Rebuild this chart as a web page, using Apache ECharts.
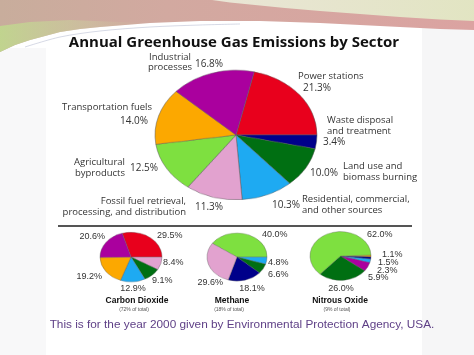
<!DOCTYPE html>
<html><head><meta charset="utf-8">
<script src="https://cdn.jsdelivr.net/npm/echarts@6/dist/echarts.min.js"></script>
<style>
html,body{margin:0;padding:0;background:#fff;}
#wrap{position:relative;width:474px;height:355px;overflow:hidden;background:#fff;}
#bg,#texts{position:absolute;left:0;top:0;width:474px;height:355px;}
#pies{position:absolute;left:0;top:0;width:474px;height:443.75px;transform:scaleY(0.8);transform-origin:0 0;}
</style></head><body>
<div id="wrap"><div id="bg"></div><div id="pies"></div><div id="texts"></div></div>
<script>
// ---------- data ----------
const chartTitle = 'Annual Greenhouse Gas Emissions by Sector';
const sectorNames = ['Power stations', 'Waste disposal\nand treatment', 'Land use and\nbiomass burning',
  'Residential, commercial,\nand other sources', 'Fossil fuel retrieval,\nprocessing, and distribution',
  'Agricultural\nbyproducts', 'Transportation fuels', 'Industrial\nprocesses'];
const sectorShares = [21.3, 3.4, 10.0, 10.3, 11.3, 12.5, 14.0, 16.8];

const gasNames = ['Carbon Dioxide', 'Methane', 'Nitrous Oxide'];
const gasTotalShares = [72, 18, 9];

const co2Sectors = ['Power stations', 'Fossil fuel retrieval,\nprocessing, and distribution', 'Land use and\nbiomass burning',
  'Residential, commercial,\nand other sources', 'Transportation fuels', 'Industrial\nprocesses'];
const co2Shares = [29.5, 8.4, 9.1, 12.9, 19.2, 20.6];

const ch4Sectors = ['Agricultural\nbyproducts', 'Residential, commercial,\nand other sources', 'Land use and\nbiomass burning',
  'Waste disposal\nand treatment', 'Fossil fuel retrieval,\nprocessing, and distribution'];
const ch4Shares = [40.0, 4.8, 6.6, 18.1, 29.6];

const n2oSectors = ['Transportation fuels', 'Waste disposal\nand treatment', 'Residential, commercial,\nand other sources',
  'Industrial\nprocesses', 'Land use and\nbiomass burning', 'Agricultural\nbyproducts'];
const n2oShares = [1.1, 1.5, 2.3, 5.9, 26.0, 62.0];

const captionText = 'This is for the year 2000 given by Environmental Protection Agency, USA.';

// ---------- style ----------
const sectorColors = ['#e8001c', '#00008a', '#006f12', '#1eaaf2', '#e2a2cf', '#7ee040', '#fca800', '#aa009e'];
const colorOf = n => sectorColors[sectorNames.indexOf(n)];
const SY = 0.8; // vertical squash of the pie layer (elliptical pies)
const sum = a => a.reduce((s, v) => s + v, 0);

function pieSeries(names, values, cx, cy, r, start, bw) {
  return {
    type: 'pie', center: [cx, cy / SY], radius: r, startAngle: start, clockwise: true,
    silent: true, animation: false, label: { show: false }, labelLine: { show: false },
    emphasis: { disabled: true },
    itemStyle: { borderColor: 'rgba(90,90,90,0.65)', borderWidth: bw },
    data: names.map((n, i) => ({ name: n, value: values[i], itemStyle: { color: colorOf(n) } }))
  };
}

const pies = echarts.init(document.getElementById('pies'), null, { renderer: 'canvas' });
pies.setOption({
  animation: false,
  series: [
    pieSeries(sectorNames, sectorShares, 236, 135, 81, sectorShares[0] / sum(sectorShares) * 360, 0.8),
    pieSeries(co2Sectors, co2Shares, 131, 257, 31, co2Shares[0] / sum(co2Shares) * 360, 0.6),
    pieSeries(ch4Sectors, ch4Shares, 237, 257, 30, ch4Shares[0] / sum(ch4Shares) * 360, 0.6),
    pieSeries(n2oSectors, n2oShares, 340.5, 256, 30.5, 2, 0.6)
  ]
});

// ---------- text + decoration layer ----------
const F = '"Open Sans", "Noto Sans", sans-serif';
function txt(t, x, y, align, font, fill, lh) {
  return { type: 'text', x: x, y: y, silent: true,
    style: { text: t, font: font, fill: fill || '#333', textAlign: align, textVerticalAlign: 'middle', lineHeight: lh || 10.5 } };
}

const g = [];
// decorative slide background
g.push({ type: 'rect', shape: { x: 422, y: 28, width: 52, height: 327 }, style: { fill: '#f6f6f7' }, silent: true });
g.push({ type: 'rect', shape: { x: 0, y: 48, width: 46, height: 307 }, style: { fill: '#f8f8f9' }, silent: true });
const bandBottom = [[0, 52], [15, 45], [30, 40], [45, 36], [60, 32], [80, 29], [100, 27], [125, 25], [150, 23],
  [175, 22], [200, 21], [230, 21], [260, 21], [290, 22], [320, 23], [350, 24.5], [380, 26], [410, 27.5], [440, 29], [474, 30]];
g.push({ type: 'polygon', shape: { points: bandBottom.concat([[474, 0], [0, 0]]) }, silent: true,
  style: { fill: new echarts.graphic.LinearGradient(0, 0, 1, 0, [
    { offset: 0, color: '#c8ad9c' }, { offset: 0.35, color: '#d2a9a0' }, { offset: 1, color: '#dba3a1' }]) } });
// greenish lower-left tint
g.push({ type: 'polygon', shape: { points: bandBottom.slice(0, 9).concat([[120, 22], [70, 20], [30, 22], [0, 26]]) }, silent: true,
  style: { fill: new echarts.graphic.LinearGradient(0, 0, 1, 0, [
    { offset: 0, color: 'rgba(192,214,142,0.95)' }, { offset: 0.6, color: 'rgba(205,205,160,0.45)' }, { offset: 1, color: 'rgba(210,190,160,0)' }]) } });
// cream highlight top right
g.push({ type: 'polygon', shape: { points: [[212, 0], [474, 0], [474, 21], [440, 19.5], [400, 17], [360, 14], [320, 11], [285, 8], [255, 5], [230, 2.5]] },
  silent: true, style: { fill: new echarts.graphic.LinearGradient(0, 0, 1, 0, [
    { offset: 0, color: 'rgba(236,236,220,0.9)' }, { offset: 1, color: 'rgba(226,232,196,0.95)' }]) } });
// faint swoosh line
const swoosh = [[25, 47], [60, 37], [100, 31], [150, 27], [200, 25], [240, 24]];
g.push({ type: 'polyline', shape: { points: swoosh, smooth: 0.3 }, silent: true, style: { stroke: 'rgba(160,168,195,0.55)', lineWidth: 0.8, fill: null } });

// title
g.push(txt(chartTitle, 234, 43, 'center', 'bold 15px ' + F, '#111'));

// main pie labels
const nameLayout = [[298, 76, 'left'], [327, 126, 'left'], [343, 172, 'left'], [302, 205, 'left'],
  [186, 207, 'right'], [125, 168, 'right'], [152, 107, 'right'], [170, 62.5, 'center']];
const pctLayout = [[303, 88, 'left'], [323, 142, 'left'], [338, 173, 'right'], [300, 205, 'right'],
  [195, 207, 'left'], [130, 168, 'left'], [148, 121, 'right'], [195, 64, 'left']];
sectorNames.forEach((n, i) => {
  g.push(txt(n, nameLayout[i][0], nameLayout[i][1], nameLayout[i][2], '9.5px ' + F, '#333'));
  g.push(txt(sectorShares[i].toFixed(1) + '%', pctLayout[i][0], pctLayout[i][1], pctLayout[i][2], '10px ' + F, '#333'));
});

// separator
g.push({ type: 'line', shape: { x1: 58, y1: 226, x2: 412, y2: 226 }, style: { stroke: '#555', lineWidth: 2 }, silent: true });

// small pies labels
const SF = '"Liberation Sans", Arial, sans-serif';
const smallPct = [
  [co2Shares, [[157, 236, 'left'], [163, 263, 'left'], [152, 281, 'left'], [133, 289, 'center'], [102, 277, 'right'], [105, 237, 'right']]],
  [ch4Shares, [[262, 235, 'left'], [268, 263, 'left'], [268, 275, 'left'], [252, 289, 'center'], [223, 283, 'right']]],
  [n2oShares, [[382, 255, 'left'], [378, 263, 'left'], [377, 271, 'left'], [368, 278, 'left'], [341, 289, 'center'], [367, 235, 'left']]]
];
smallPct.forEach(([vals, lay]) => {
  vals.forEach((v, i) => g.push(txt(v.toFixed(1) + '%', lay[i][0], lay[i][1], lay[i][2], '9px ' + SF, '#333')));
});
const gasX = [137, 232, 340];
gasNames.forEach((n, i) => {
  g.push(txt(n, gasX[i], 301, 'center', 'bold 8.5px ' + SF, '#111'));
  g.push(txt('(' + gasTotalShares[i] + '% of total)', gasX[i] - 3, 309.5, 'center', '5px ' + SF, '#555'));
});

// caption
g.push(txt(captionText, 242, 325, 'center', '11.8px ' + SF, '#5e3f86'));

const texts = echarts.init(document.getElementById('texts'), null, { renderer: 'canvas' });
texts.setOption({ animation: false, graphic: { elements: g } });
</script>
</body></html>
